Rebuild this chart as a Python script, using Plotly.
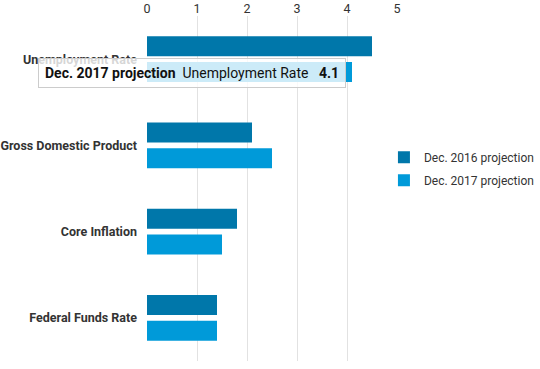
import plotly.graph_objects as go

categories = ["Unemployment Rate", "Gross Domestic Product", "Core Inflation", "Federal Funds Rate"]
series_names = ["Dec. 2016 projection", "Dec. 2017 projection"]
values_2016 = [4.5, 2.1, 1.8, 1.4]
values_2017 = [4.1, 2.5, 1.5, 1.4]
x_ticks = [0, 1, 2, 3, 4, 5]

colors = ["#0077aa", "#009ad9"]
FONT = "Roboto, Arial, sans-serif"

fig = go.Figure()
for i, (name, vals, col) in enumerate(zip(series_names, [values_2016, values_2017], colors)):
    fig.add_trace(go.Bar(
        y=categories, x=vals, name=name, orientation="h",
        legendgroup=f"g{i}",
        marker=dict(color=col, line=dict(width=0)),
    ))

fig.update_layout(
    width=540, height=369,
    margin=dict(l=147, r=143, t=16, b=8, autoexpand=False),
    paper_bgcolor="white", plot_bgcolor="white",
    barmode="group", bargap=0.398, bargroupgap=0.23,
    font=dict(family=FONT, size=12.5, color="#333333"),
    showlegend=True,
    legend=dict(
        xref="container", yref="container",
        x=0.711, xanchor="left", y=0.543, yanchor="middle",
        traceorder="grouped", font=dict(size=12, color="#333333"),
        itemwidth=30, tracegroupgap=4,
    ),
    xaxis=dict(
        side="top", range=[0, 5], tickvals=x_ticks,
        showgrid=True, gridcolor="#e2e2e2", gridwidth=1,
        zeroline=False, showline=False, ticks="",
        tickfont=dict(size=12.5, color="#333333"),
        fixedrange=True, automargin=False,
    ),
    yaxis=dict(
        categoryorder="array", categoryarray=categories,
        autorange="reversed", showgrid=False, zeroline=False,
        showline=False, ticks="", ticklabelstandoff=9,
        tickfont=dict(size=12.5, color="#333333", weight="bold"),
        fixedrange=True, automargin=False,
    ),
)

# Hover tooltip shown in the reference
fig.add_annotation(
    xref="x", yref="y", x=values_2017[0], y=categories[0],
    xanchor="right", yanchor="middle", xshift=-6, yshift=-14,
    showarrow=False,
    text=f"<b>{series_names[1]}</b>\u00a0\u00a0{categories[0]}\u00a0\u00a0\u00a0<b>{values_2017[0]}</b>",
    font=dict(family=FONT, size=14, color="#111111"),
    bgcolor="rgba(255,255,255,0.8)", bordercolor="#cccccc", borderwidth=1, borderpad=6,
)

fig.write_html("out.html", config={"displayModeBar": False},
               post_script="document.body.style.margin='0';")
